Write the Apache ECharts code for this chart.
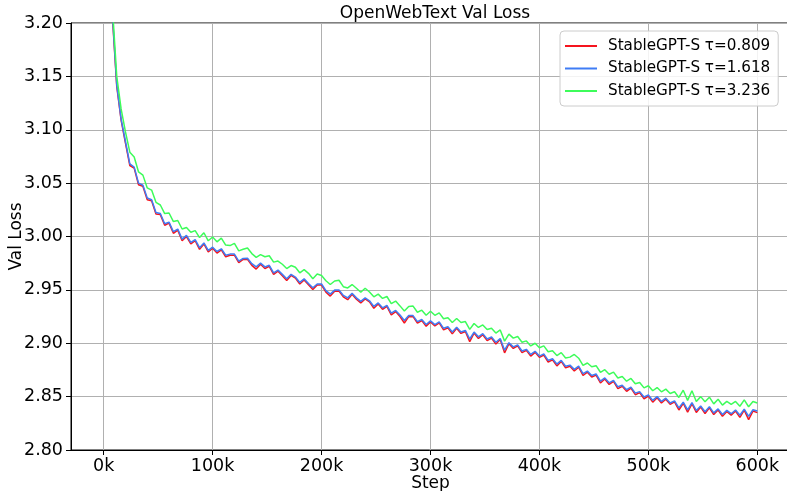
<!DOCTYPE html>
<html>
<head>
<meta charset="utf-8">
<title>OpenWebText Val Loss</title>
<script src="https://cdn.jsdelivr.net/npm/echarts@6/dist/echarts.min.js"></script>
<style>
  html, body { margin: 0; padding: 0; background: #ffffff; }
  #chart { width: 787px; height: 491px; }
</style>
</head>
<body>
<div id="chart"></div>
<script>
// Validation loss logged every 4k training steps, for three values of tau.
const evalEvery = 4000;

const seriesNames = [
  'StableGPT-S τ=0.809',
  'StableGPT-S τ=1.618',
  'StableGPT-S τ=3.236'
];
const seriesColors = ['#f5141e', '#3f7cf5', '#3dfc5a'];

const lossTau0809 = [
  3.3190, 3.2060, 3.1405, 3.1090, 3.0875, 3.0665, 3.0640, 3.0485, 3.0470, 3.0345,
  3.0335, 3.0210, 3.0205, 3.0105, 3.0125, 3.0030, 3.0060, 2.9960, 3.0000, 2.9930,
  2.9960, 2.9880, 2.9930, 2.9855, 2.9890, 2.9845, 2.9875, 2.9810, 2.9825, 2.9825,
  2.9755, 2.9785, 2.9787, 2.9730, 2.9695, 2.9740, 2.9700, 2.9720, 2.9645, 2.9675,
  2.9632, 2.9588, 2.9635, 2.9610, 2.9555, 2.9593, 2.9548, 2.9503, 2.9545, 2.9545,
  2.9478, 2.9442, 2.9488, 2.9490, 2.9435, 2.9408, 2.9458, 2.9412, 2.9378, 2.9415,
  2.9388, 2.9328, 2.9368, 2.9318, 2.9345, 2.9266, 2.9297, 2.9250, 2.9190, 2.9250,
  2.9249, 2.9188, 2.9212, 2.9160, 2.9200, 2.9162, 2.9190, 2.9125, 2.9145, 2.9088,
  2.9140, 2.9092, 2.9110, 2.9015, 2.9095, 2.9045, 2.9080, 2.9025, 2.9048, 2.8993,
  2.9035, 2.8910, 2.8995, 2.8952, 2.8975, 2.8912, 2.8933, 2.8880, 2.8915, 2.8868,
  2.8890, 2.8824, 2.8845, 2.8788, 2.8830, 2.8770, 2.8785, 2.8740, 2.8775, 2.8698,
  2.8729, 2.8684, 2.8702, 2.8628, 2.8665, 2.8614, 2.8643, 2.8575, 2.8596, 2.8550,
  2.8579, 2.8518, 2.8537, 2.8480, 2.8505, 2.8448, 2.8490, 2.8441, 2.8475, 2.8428,
  2.8450, 2.8375, 2.8438, 2.8355, 2.8433, 2.8352, 2.8402, 2.8342, 2.8396, 2.8332,
  2.8375, 2.8315, 2.8361, 2.8325, 2.8365, 2.8305, 2.8373, 2.8285, 2.8365, 2.8350
];

const lossTau1618 = [
  3.3200, 3.2080, 3.1420, 3.1100, 3.0890, 3.0680, 3.0650, 3.0500, 3.0480, 3.0360,
  3.0345, 3.0225, 3.0215, 3.0120, 3.0135, 3.0045, 3.0070, 2.9975, 3.0010, 2.9945,
  2.9970, 2.9895, 2.9940, 2.9870, 2.9900, 2.9860, 2.9885, 2.9825, 2.9835, 2.9835,
  2.9770, 2.9795, 2.9797, 2.9745, 2.9715, 2.9750, 2.9715, 2.9730, 2.9660, 2.9685,
  2.9645, 2.9605, 2.9645, 2.9620, 2.9570, 2.9603, 2.9560, 2.9520, 2.9555, 2.9555,
  2.9493, 2.9460, 2.9498, 2.9500, 2.9448, 2.9425, 2.9468, 2.9425, 2.9393, 2.9425,
  2.9398, 2.9345, 2.9378, 2.9332, 2.9355, 2.9283, 2.9307, 2.9265, 2.9213, 2.9260,
  2.9259, 2.9203, 2.9222, 2.9176, 2.9210, 2.9175, 2.9200, 2.9140, 2.9155, 2.9105,
  2.9150, 2.9105, 2.9120, 2.9040, 2.9105, 2.9060, 2.9090, 2.9040, 2.9058, 2.9009,
  2.9045, 2.8935, 2.9005, 2.8966, 2.8985, 2.8927, 2.8943, 2.8895, 2.8925, 2.8880,
  2.8900, 2.8840, 2.8855, 2.8805, 2.8840, 2.8785, 2.8795, 2.8755, 2.8785, 2.8715,
  2.8739, 2.8698, 2.8712, 2.8646, 2.8675, 2.8629, 2.8653, 2.8592, 2.8606, 2.8565,
  2.8589, 2.8533, 2.8547, 2.8496, 2.8515, 2.8465, 2.8500, 2.8455, 2.8485, 2.8440,
  2.8460, 2.8395, 2.8448, 2.8376, 2.8443, 2.8370, 2.8412, 2.8359, 2.8406, 2.8348,
  2.8385, 2.8333, 2.8371, 2.8340, 2.8375, 2.8325, 2.8383, 2.8315, 2.8377, 2.8365
];

const lossTau3236 = [
  3.3260, 3.2150, 3.1500, 3.1195, 3.0980, 3.0790, 3.0745, 3.0605, 3.0575, 3.0455,
  3.0435, 3.0320, 3.0295, 3.0215, 3.0220, 3.0140, 3.0150, 3.0070, 3.0085, 3.0040,
  3.0055, 2.9990, 3.0035, 2.9960, 2.9995, 2.9950, 2.9985, 2.9920, 2.9915, 2.9935,
  2.9865, 2.9880, 2.9892, 2.9840, 2.9805, 2.9830, 2.9810, 2.9820, 2.9760, 2.9770,
  2.9740, 2.9700, 2.9728, 2.9712, 2.9660, 2.9690, 2.9655, 2.9605, 2.9648, 2.9635,
  2.9585, 2.9550, 2.9583, 2.9590, 2.9530, 2.9518, 2.9550, 2.9515, 2.9478, 2.9515,
  2.9480, 2.9435, 2.9460, 2.9420, 2.9438, 2.9372, 2.9395, 2.9350, 2.9302, 2.9345,
  2.9348, 2.9290, 2.9310, 2.9262, 2.9300, 2.9262, 2.9285, 2.9230, 2.9238, 2.9195,
  2.9232, 2.9195, 2.9203, 2.9130, 2.9185, 2.9148, 2.9172, 2.9128, 2.9140, 2.9095,
  2.9125, 2.9020, 2.9085, 2.9048, 2.9063, 2.9010, 2.9022, 2.8975, 2.9000, 2.8958,
  2.8975, 2.8920, 2.8930, 2.8885, 2.8912, 2.8862, 2.8870, 2.8895, 2.8860, 2.8792,
  2.8815, 2.8780, 2.8790, 2.8728, 2.8752, 2.8710, 2.8730, 2.8675, 2.8688, 2.8645,
  2.8670, 2.8620, 2.8632, 2.8582, 2.8602, 2.8555, 2.8585, 2.8545, 2.8570, 2.8530,
  2.8545, 2.8492, 2.8560, 2.8465, 2.8555, 2.8455, 2.8500, 2.8452, 2.8495, 2.8432,
  2.8475, 2.8420, 2.8455, 2.8428, 2.8455, 2.8410, 2.8470, 2.8405, 2.8455, 2.8440
];

const xTicks = [0, 100000, 200000, 300000, 400000, 500000, 600000];
const xRange = [-30000, 630000];
const yRange = [2.80, 3.20];
const yStep = 0.05;

const FONT = 'DejaVu Sans';

function pairUp(values) {
  return values.map((v, i) => [(i + 1) * evalEvery, v]);
}

const seriesValues = [lossTau0809, lossTau1618, lossTau3236];

const chart = echarts.init(document.getElementById('chart'), null, { renderer: 'canvas' });

chart.setOption({
  animation: false,
  backgroundColor: '#ffffff',
  textStyle: { fontFamily: FONT },
  title: {
    text: 'OpenWebText Val Loss',
    left: 430,
    textAlign: 'center',
    top: 0,
    textStyle: { fontFamily: FONT, fontSize: 17, fontWeight: 'normal', color: '#000' }
  },
  grid: {
    left: 71, top: 23, width: 719, height: 427,
    containLabel: false,
    outerBoundsMode: 'none',
    show: true,
    borderColor: '#000',
    borderWidth: 1,
    backgroundColor: 'transparent'
  },
  legend: {
    orient: 'vertical',
    left: 560,
    top: 31,
    padding: [6, 8, 6, 5],
    itemWidth: 32,
    itemHeight: 2,
    itemGap: 4.5,
    icon: 'rect',
    backgroundColor: 'rgba(255,255,255,0.85)',
    borderColor: '#cccccc',
    borderWidth: 1,
    borderRadius: 4,
    textStyle: { fontFamily: FONT, fontSize: 15.2, color: '#000', lineHeight: 18, padding: [0, 0, 0, 6] },
    data: seriesNames
  },
  xAxis: {
    type: 'value',
    min: xRange[0],
    max: xRange[1],
    name: 'Step',
    nameLocation: 'middle',
    nameGap: 25,
    nameMoveOverlap: false,
    nameTextStyle: { fontFamily: FONT, fontSize: 17, color: '#000' },
    axisLine: { show: true, onZero: false, lineStyle: { color: '#000', width: 1 } },
    axisTick: { show: true, inside: false, length: 5, lineStyle: { color: '#000' }, customValues: xTicks },
    axisLabel: {
      fontFamily: FONT, fontSize: 17.5, color: '#000', margin: 7,
      customValues: xTicks,
      formatter: v => Math.round(v / 1000) + 'k'
    },
    splitLine: { show: true, lineStyle: { color: '#b0b0b0', width: 1 } }
  },
  yAxis: {
    type: 'value',
    min: yRange[0],
    max: yRange[1],
    interval: yStep,
    name: 'Val Loss',
    nameLocation: 'middle',
    nameGap: 46,
    nameMoveOverlap: false,
    nameTextStyle: { fontFamily: FONT, fontSize: 17, color: '#000' },
    axisLine: { show: true, onZero: false, lineStyle: { color: '#000', width: 1 } },
    axisTick: { show: true, inside: false, length: 5, lineStyle: { color: '#000' } },
    axisLabel: {
      fontFamily: FONT, fontSize: 17.5, color: '#000', margin: 8,
      formatter: v => v.toFixed(2)
    },
    splitLine: { show: true, lineStyle: { color: '#b0b0b0', width: 1 } }
  },
  series: seriesNames.map((name, k) => ({
    name: name,
    type: 'line',
    data: pairUp(seriesValues[k]),
    showSymbol: false,
    symbol: 'none',
    clip: true,
    lineStyle: { color: seriesColors[k], width: 1.5 },
    itemStyle: { color: seriesColors[k] },
    emphasis: { disabled: true },
    z: 2 + k
  }))
});
</script>
</body>
</html>
